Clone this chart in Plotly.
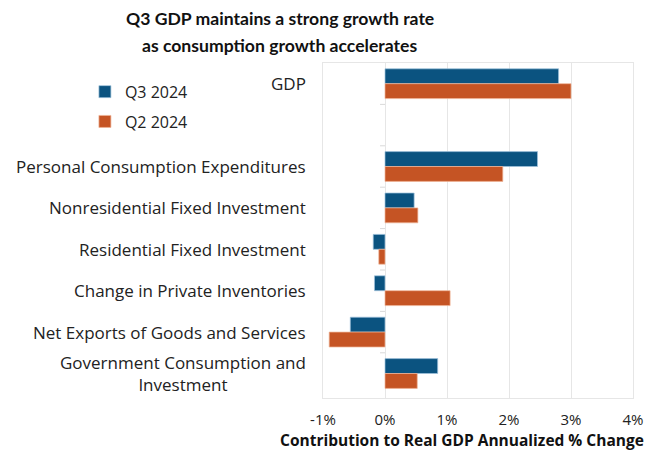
import plotly.graph_objects as go

# Contribution to real GDP growth (percentage points, annualized)
categories = [
    "GDP",
    "",
    "Personal Consumption Expenditures",
    "Nonresidential Fixed Investment",
    "Residential Fixed Investment",
    "Change in Private Inventories",
    "Net Exports of Goods and Services",
    "Government Consumption and<br>Investment",
]
q3_2024 = [2.8, None, 2.46, 0.47, -0.19, -0.17, -0.56, 0.85]
q2_2024 = [3.0, None, 1.90, 0.53, -0.10, 1.05, -0.90, 0.52]
x_ticks = [-1, 0, 1, 2, 3, 4]
x_tick_text = ["-1%", "0%", "1%", "2%", "3%", "4%"]
title_lines = ["Q3 GDP maintains a strong growth rate",
               "as consumption growth accelerates"]

BLUE = "#0b5380"
ORANGE = "#c55424"
FONT = "Open Sans"
TITLE_FONT = "Lato"
TEXT = "#222222"

# unique category keys so the blank spacer row is kept
cat_keys = [f"c{i}" for i in range(len(categories))]

fig = go.Figure()
fig.add_trace(go.Bar(
    name="Q3 2024", y=cat_keys, x=q3_2024, orientation="h", legendgroup="q3",
    marker=dict(color=BLUE, line=dict(color="rgba(160,195,220,0.9)", width=0.8)),
))
fig.add_trace(go.Bar(
    name="Q2 2024", y=cat_keys, x=q2_2024, orientation="h", legendgroup="q2",
    marker=dict(color=ORANGE, line=dict(color="rgba(240,180,150,0.9)", width=0.8)),
))

# category labels, right aligned next to the plot, multi-line text centred
annotations = []
for key, label in zip(cat_keys, categories):
    if not label:
        continue
    annotations.append(dict(
        x=-0.05, xref="paper", y=key, yref="y", text=label,
        xanchor="right", yanchor="middle", align="center", showarrow=False,
        font=dict(family=FONT, size=17, color=TEXT),
    ))

# chart title, one annotation per line for wider line spacing
for line, ypos in zip(title_lines, [1.134, 1.051]):
    annotations.append(dict(
        x=-0.139, xref="paper", y=ypos, yref="paper",
        text=f"<b>{line}</b>",
        xanchor="center", yanchor="middle", align="center", showarrow=False,
        font=dict(family=TITLE_FONT, size=17.6, color="#111111"),
    ))

# x-axis title
annotations.append(dict(
    x=1.04, xref="paper", y=-0.124, yref="paper",
    text="<b>Contribution to Real GDP Annualized % Change</b>",
    xanchor="right", yanchor="middle", showarrow=False, borderpad=0,
    font=dict(family=FONT, size=15.5, color="#111111"),
))

# small tick marks on the zero line at category boundaries
shapes = []
for i in range(len(cat_keys) - 1):
    shapes.append(dict(
        type="line", xref="x", yref="y", x0=-0.08, x1=0,
        y0=i + 0.5, y1=i + 0.5, line=dict(color="#d9d9d9", width=1),
    ))

fig.update_layout(
    width=660, height=450,
    margin=dict(l=323, r=27, t=63, b=52),
    paper_bgcolor="white", plot_bgcolor="white",
    barmode="group", bargap=0.28, bargroupgap=0,
    font=dict(family=FONT, size=16, color=TEXT),
    legend=dict(
        x=-0.768, xanchor="left", y=0.965, yanchor="top",
        font=dict(family=FONT, size=16, color=TEXT),
        itemwidth=30, tracegroupgap=6, bgcolor="rgba(0,0,0,0)",
    ),
    xaxis=dict(
        range=[-1, 4], tickvals=x_ticks, ticktext=x_tick_text,
        showgrid=True, gridcolor="#e6e6e6", gridwidth=1,
        zeroline=False, showline=True, linecolor="#e6e6e6", mirror=True,
        ticks="", ticklabelstandoff=8,
        tickfont=dict(family=FONT, size=15, color=TEXT),
        fixedrange=True,
    ),
    yaxis=dict(
        categoryorder="array", categoryarray=cat_keys, autorange="reversed",
        showticklabels=False, showgrid=False, zeroline=False,
        showline=True, linecolor="#e6e6e6", mirror=True, ticks="",
        fixedrange=True,
    ),
    annotations=annotations,
    shapes=shapes,
)

fig.write_html("out.html")
